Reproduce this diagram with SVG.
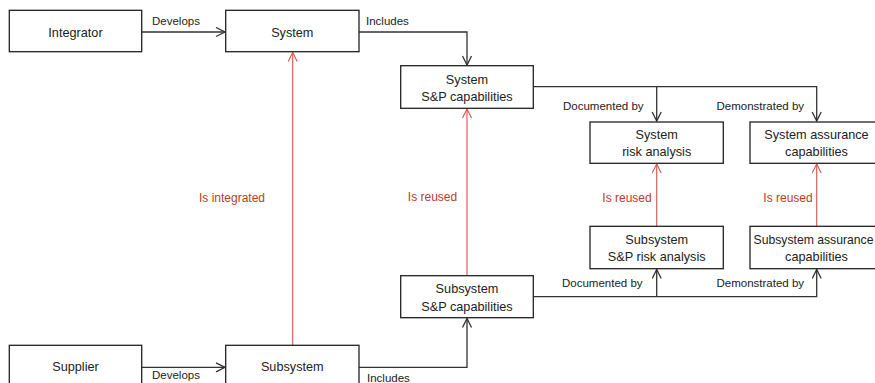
<svg xmlns="http://www.w3.org/2000/svg" width="875" height="383" viewBox="0 0 875 383">
<defs>
<style>
.box{fill:#fff;stroke:#222;stroke-width:1.3}
.nt{font-family:"Liberation Sans",Arial,sans-serif;font-size:12.7px;fill:#222;text-anchor:middle}
.lb{font-family:"Liberation Sans",Arial,sans-serif;font-size:11.5px;fill:#222}
.rl{font-family:"Liberation Sans",Arial,sans-serif;font-size:12px;fill:#c0392b;text-anchor:middle}
.c{fill:none;stroke:#333;stroke-width:1.3}
.r{fill:none;stroke:#d9534f;stroke-width:1.1}
</style>
<marker id="ah" markerUnits="userSpaceOnUse" markerWidth="12" markerHeight="12" refX="10" refY="5" orient="auto"><path d="M1,0.5 L10,5 L1,9.5" fill="none" stroke="#333" stroke-width="1.3"/></marker>
<marker id="ahr" markerUnits="userSpaceOnUse" markerWidth="12" markerHeight="12" refX="10" refY="5" orient="auto"><path d="M1,0.5 L10,5 L1,9.5" fill="none" stroke="#d9534f" stroke-width="1.1"/></marker>
</defs>
<rect width="875" height="383" fill="#fff"/>
<g id="connectors">
<path class="c" d="M141.7,32 H225" marker-end="url(#ah)"/>
<path class="c" d="M359,32 H467 V65" marker-end="url(#ah)"/>
<path class="c" d="M533.3,86.7 H816.7 V121" marker-end="url(#ah)"/>
<path class="c" d="M656.7,86.7 V121" marker-end="url(#ah)"/>
<path class="c" d="M141.7,367.3 H225" marker-end="url(#ah)"/>
<path class="c" d="M359,367.3 H467 V318.5" marker-end="url(#ah)"/>
<path class="c" d="M533.3,296.7 H816.7 V269.5" marker-end="url(#ah)"/>
<path class="c" d="M656.7,296.7 V269.5" marker-end="url(#ah)"/>
<path class="r" d="M292.7,345.3 V52.5" marker-end="url(#ahr)"/>
<path class="r" d="M467,275.7 V109" marker-end="url(#ahr)"/>
<path class="r" d="M656.7,226.3 V164" marker-end="url(#ahr)"/>
<path class="r" d="M816.7,226.3 V164" marker-end="url(#ahr)"/>
<text class="lb" x="152" y="25">Develops</text>
<text class="lb" x="366" y="25">Includes</text>
<text class="lb" x="563" y="110">Documented by</text>
<text class="lb" x="716.5" y="110">Demonstrated by</text>
<text class="lb" x="562" y="287">Documented by</text>
<text class="lb" x="716.5" y="287">Demonstrated by</text>
<text class="lb" x="152" y="379">Develops</text>
<text class="lb" x="367" y="382">Includes</text>
<text class="rl" x="232" y="202">Is integrated</text>
<text class="rl" x="432.5" y="201">Is reused</text>
<text class="rl" x="627" y="202">Is reused</text>
<text class="rl" x="788" y="202">Is reused</text>
</g>
<g id="integrator"><rect class="box" x="9.3" y="10.3" width="132.4" height="41.4"/><text class="nt" x="75.5" y="36.5">Integrator</text></g>
<g id="system"><rect class="box" x="225.7" y="10.3" width="133.3" height="41.4"/><text class="nt" x="292.3" y="36.5">System</text></g>
<g id="system-sp"><rect class="box" x="400.7" y="65.7" width="132.6" height="42.6"/><text class="nt" x="467" y="83.5">System</text><text class="nt" x="467" y="100.5">S&amp;P capabilities</text></g>
<g id="system-risk"><rect class="box" x="590" y="122" width="133.3" height="41.3"/><text class="nt" x="656.7" y="138.5">System</text><text class="nt" x="656.7" y="156">risk analysis</text></g>
<g id="system-assurance"><rect class="box" x="750" y="122" width="133.3" height="41.3"/><text class="nt" x="816.5" y="138.5">System assurance</text><text class="nt" x="816.5" y="156">capabilities</text></g>
<g id="subsystem-risk"><rect class="box" x="590" y="226.3" width="133.3" height="42.4"/><text class="nt" x="656.7" y="243.5">Subsystem</text><text class="nt" x="656.7" y="261">S&amp;P risk analysis</text></g>
<g id="subsystem-assurance"><rect class="box" x="750" y="226.3" width="133.3" height="42.4"/><text class="nt" x="813.5" y="243.5" style="font-size:12.2px">Subsystem assurance</text><text class="nt" x="816.5" y="261">capabilities</text></g>
<g id="subsystem-sp"><rect class="box" x="400.7" y="275.7" width="132.6" height="42"/><text class="nt" x="467" y="293">Subsystem</text><text class="nt" x="467" y="310.5">S&amp;P capabilities</text></g>
<g id="supplier"><rect class="box" x="9.3" y="345.3" width="132.4" height="42"/><text class="nt" x="75.5" y="371">Supplier</text></g>
<g id="subsystem"><rect class="box" x="225.7" y="345.3" width="133.3" height="42"/><text class="nt" x="292.3" y="371">Subsystem</text></g>
</svg>
